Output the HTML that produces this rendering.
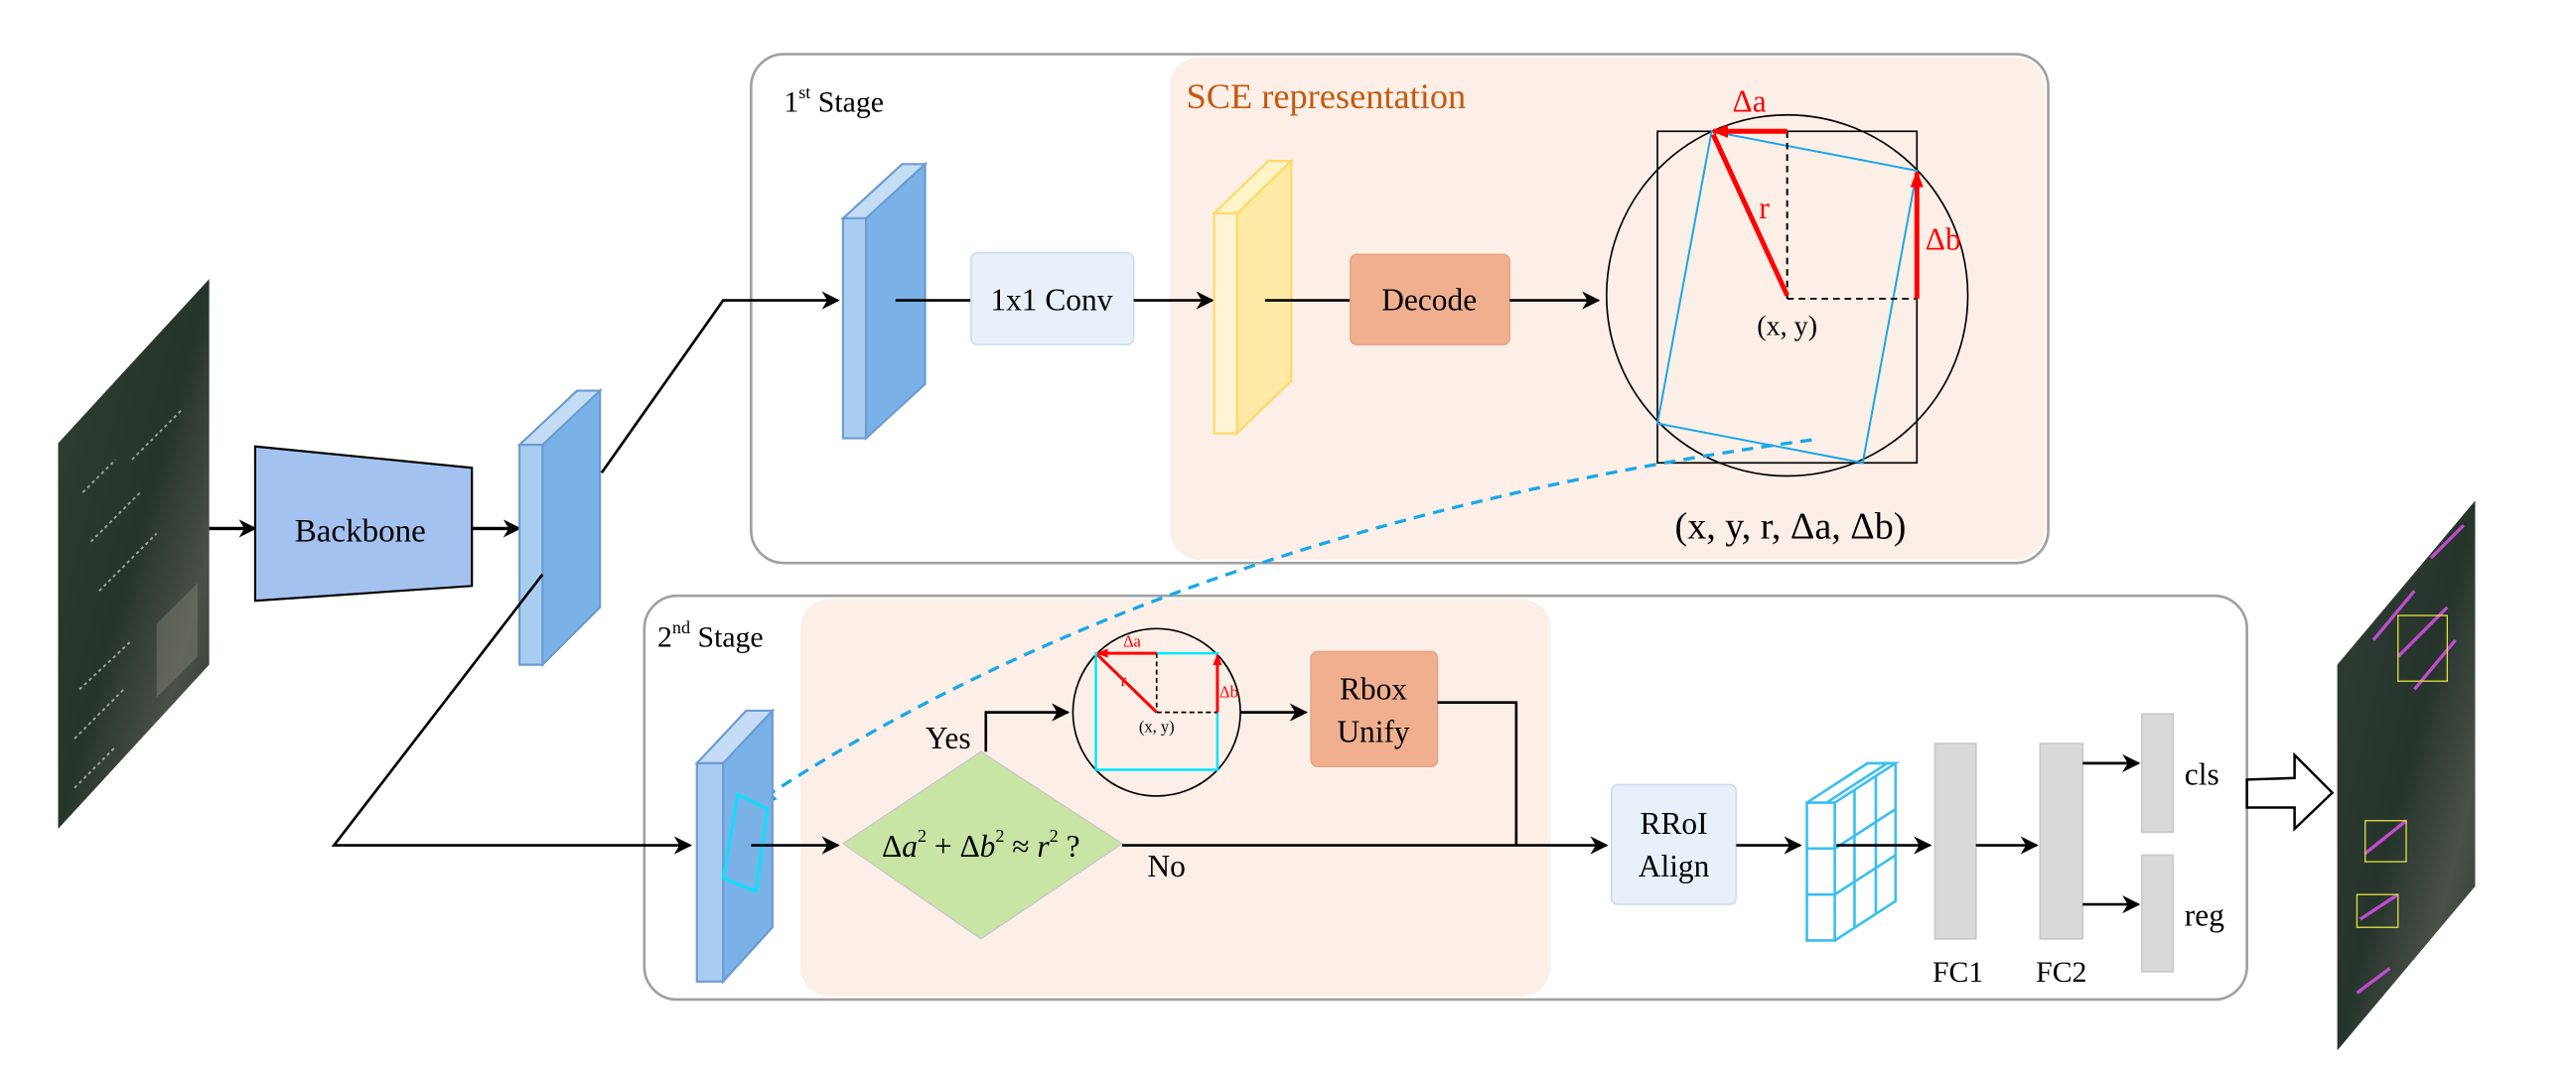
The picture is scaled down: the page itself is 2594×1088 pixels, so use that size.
<!DOCTYPE html>
<html><head><meta charset="utf-8"><style>
html,body{margin:0;padding:0;background:#fff;}
svg{display:block;}
text{font-family:"Liberation Serif","Noto Serif CJK SC","DejaVu Serif",serif;}
</style></head><body>
<svg width="2594" height="1088" viewBox="0 0 1568 658" xmlns="http://www.w3.org/2000/svg">
<defs>
<marker id="ah" viewBox="0 0 10 10" refX="9" refY="5" markerWidth="11" markerHeight="11" orient="auto" markerUnits="userSpaceOnUse"><path d="M0,0 L10,5 L0,10 L3,5 z" fill="#000"/></marker>
<marker id="ahr" viewBox="0 0 10 10" refX="9" refY="5" markerWidth="10" markerHeight="10" orient="auto" markerUnits="userSpaceOnUse"><path d="M0,1 L10,5 L0,9 z" fill="#f00"/></marker>
<marker id="ahrs" viewBox="0 0 10 10" refX="9" refY="5" markerWidth="7" markerHeight="7" orient="auto" markerUnits="userSpaceOnUse"><path d="M0,1 L10,5 L0,9 z" fill="#f00"/></marker>
<linearGradient id="img" x1="0" y1="0" x2="1" y2="1">
<stop offset="0" stop-color="#2f3d33"/><stop offset="0.5" stop-color="#26342c"/><stop offset="0.75" stop-color="#4a5048"/><stop offset="1" stop-color="#2a3a2c"/></linearGradient>
</defs>

<rect x="457" y="33" width="790" height="310" rx="20" fill="#fff" stroke="#a0a0a0" stroke-width="1.6"/>
<rect x="712" y="35" width="533" height="306" rx="18" fill="#fcefe7"/>
<text x="477" y="68" font-size="18">1<tspan font-size="11" dy="-8">st</tspan><tspan dy="8"> Stage</tspan></text>
<text x="722" y="66" font-size="22" fill="#c55a11">SCE representation</text>

<rect x="392" y="363" width="976" height="246" rx="20" fill="#fff" stroke="#a0a0a0" stroke-width="1.6"/>
<rect x="487" y="365" width="457" height="242" rx="18" fill="#fcefe7"/>
<text x="400" y="394" font-size="18">2<tspan font-size="11" dy="-8">nd</tspan><tspan dy="8"> Stage</tspan></text>

<polygon points="35,270 127,170 127,405 35,505" fill="url(#img)"/>
<g stroke="#dfe6e0" stroke-width="1.2" opacity="0.6" stroke-dasharray="2,2">
<line x1="50" y1="300" x2="70" y2="280"/><line x1="55" y1="330" x2="85" y2="300"/><line x1="60" y1="360" x2="95" y2="325"/><line x1="48" y1="420" x2="80" y2="390"/><line x1="45" y1="450" x2="75" y2="420"/><line x1="45" y1="480" x2="70" y2="455"/><line x1="80" y1="280" x2="110" y2="250"/>
</g>
<polygon points="95,380 120,355 120,400 95,425" fill="#7a7c72" opacity="0.5"/>

<polygon points="1423,405 1507,305 1507,540 1423,640" fill="url(#img)"/>
<g stroke="#d050e0" stroke-width="2" opacity="0.9">
<line x1="1445" y1="390" x2="1470" y2="360"/><line x1="1460" y1="400" x2="1490" y2="370"/><line x1="1470" y1="420" x2="1495" y2="390"/><line x1="1440" y1="520" x2="1465" y2="500"/><line x1="1437" y1="560" x2="1460" y2="545"/><line x1="1435" y1="605" x2="1455" y2="590"/><line x1="1480" y1="340" x2="1500" y2="320"/>
</g>
<g stroke="#e0e040" stroke-width="0.8" fill="none"><rect x="1440" y="500" width="25" height="25"/><rect x="1435" y="545" width="25" height="20"/><rect x="1460" y="375" width="30" height="40"/></g>

<line x1="127" y1="322" x2="155" y2="322" stroke="#000" stroke-width="2" marker-end="url(#ah)"/>
<polygon points="155,272 287,285 287,357 155,366" fill="#a4c2f0" stroke="#000" stroke-width="1.3"/>
<text x="219" y="330" font-size="20" text-anchor="middle">Backbone</text>
<line x1="287" y1="322" x2="316" y2="322" stroke="#000" stroke-width="2" marker-end="url(#ah)"/>

<g stroke="#6c9bd2" stroke-width="1.3">
<polygon points="330,271 365,238 365,370 330,405" fill="#7ab2e8"/>
<polygon points="316,271 351,238 365,238 330,271" fill="#c5dcf5"/>
<rect x="316" y="271" width="14" height="134" fill="#a9cdf0"/>
</g>
<polyline points="366,288 440,183 510,183" fill="none" stroke="#000" stroke-width="1.6" marker-end="url(#ah)"/>
<polyline points="330,350 203,515 420,515" fill="none" stroke="#000" stroke-width="1.6" marker-end="url(#ah)"/>

<g stroke="#6c9bd2" stroke-width="1.3">
<polygon points="527,133 563,100 563,234 527,267" fill="#7ab2e8"/>
<polygon points="513,133 549,100 563,100 527,133" fill="#c5dcf5"/>
<rect x="513" y="133" width="14" height="134" fill="#a9cdf0"/>
</g>
<line x1="545" y1="183" x2="591" y2="183" stroke="#000" stroke-width="1.6"/>
<rect x="591" y="154" width="99" height="56" rx="4" fill="#e8f0fa" stroke="#cfdcec"/>
<text x="640" y="189" font-size="19" text-anchor="middle">1x1 Conv</text>
<line x1="690" y1="183" x2="738" y2="183" stroke="#000" stroke-width="1.6" marker-end="url(#ah)"/>

<g stroke="#ffd966" stroke-width="1.3">
<polygon points="753,130 786,98 786,232 753,264" fill="#ffe9a6"/>
<polygon points="739,130 772,98 786,98 753,130" fill="#fff3c8"/>
<rect x="739" y="130" width="14" height="134" fill="#fff5d6"/>
</g>
<line x1="770" y1="183" x2="822" y2="183" stroke="#000" stroke-width="1.6"/>
<rect x="822" y="155" width="97" height="55" rx="4" fill="#f0b08f" stroke="#e8a584"/>
<text x="870" y="189" font-size="19" text-anchor="middle">Decode</text>
<line x1="919" y1="183" x2="973" y2="183" stroke="#000" stroke-width="1.6" marker-end="url(#ah)"/>

<circle cx="1088" cy="180" r="110" fill="none" stroke="#000" stroke-width="1"/>
<rect x="1009" y="80" width="158" height="202" fill="none" stroke="#000" stroke-width="1"/>
<polygon points="1042,80 1167,104 1134,282 1009,258" fill="none" stroke="#1aa7e8" stroke-width="1.2"/>
<line x1="1088" y1="80" x2="1088" y2="182" stroke="#000" stroke-dasharray="4,3" stroke-width="1.2"/>
<line x1="1088" y1="182" x2="1167" y2="182" stroke="#000" stroke-dasharray="4,3" stroke-width="1.2"/>
<line x1="1088" y1="180" x2="1043" y2="82" stroke="#f00" stroke-width="3"/>
<line x1="1088" y1="80" x2="1043" y2="80" stroke="#f00" stroke-width="3" marker-end="url(#ahr)"/>
<line x1="1167" y1="182" x2="1167" y2="105" stroke="#f00" stroke-width="3" marker-end="url(#ahr)"/>
<text x="1065" y="68" font-size="19" fill="#f00" text-anchor="middle">Δa</text>
<text x="1074" y="133" font-size="19" fill="#f00" text-anchor="middle">r</text>
<text x="1183" y="152" font-size="19" fill="#f00" text-anchor="middle">Δb</text>
<text x="1088" y="204" font-size="17" text-anchor="middle">(x, y)</text>
<text x="1090" y="328" font-size="23" text-anchor="middle">(x, y, r, Δa, Δb)</text>

<path d="M1103,268 Q720,320 468,484" fill="none" stroke="#1aa7e8" stroke-width="2" stroke-dasharray="7,5"/>
<polygon points="460,492 464,478 473,487" fill="#1aa7e8"/>

<g stroke="#6c9bd2" stroke-width="1.3">
<polygon points="440,465 470,433 470,565 440,598" fill="#7ab2e8"/>
<polygon points="424,465 454,433 470,433 440,465" fill="#c5dcf5"/>
<rect x="424" y="465" width="16" height="133" fill="#a9cdf0"/>
</g>
<polygon points="449,484 467,493 460,543 440,535" fill="none" stroke="#00e5ff" stroke-width="1.6"/>
<line x1="457" y1="515" x2="510" y2="515" stroke="#000" stroke-width="1.6" marker-end="url(#ah)"/>

<polygon points="513,514 597,458 683,514 597,572" fill="#c9e5a5" stroke="#c8c8c8" stroke-width="0.8"/>
<text x="597" y="522" font-size="19" text-anchor="middle">Δ<tspan font-style="italic">a</tspan><tspan font-size="11" dy="-9">2</tspan><tspan dy="9"> + Δ</tspan><tspan font-style="italic">b</tspan><tspan font-size="11" dy="-9">2</tspan><tspan dy="9"> ≈ </tspan><tspan font-style="italic">r</tspan><tspan font-size="11" dy="-9">2</tspan><tspan dy="9"> ?</tspan></text>
<text x="577" y="456" font-size="19" text-anchor="middle">Yes</text>
<text x="710" y="534" font-size="19" text-anchor="middle">No</text>
<polyline points="600,458 600,434 650,434" fill="none" stroke="#000" stroke-width="1.6" marker-end="url(#ah)"/>

<circle cx="704" cy="434" r="51" fill="none" stroke="#000" stroke-width="1"/>
<rect x="667" y="398" width="74" height="71" fill="none" stroke="#00e5ff" stroke-width="1.5"/>
<line x1="704" y1="398" x2="704" y2="434" stroke="#000" stroke-dasharray="3,2" stroke-width="1"/>
<line x1="704" y1="434" x2="741" y2="434" stroke="#000" stroke-dasharray="3,2" stroke-width="1"/>
<line x1="704" y1="434" x2="668" y2="399" stroke="#f00" stroke-width="1.8"/>
<line x1="704" y1="398" x2="668" y2="398" stroke="#f00" stroke-width="1.8" marker-end="url(#ahrs)"/>
<line x1="741" y1="434" x2="741" y2="399" stroke="#f00" stroke-width="1.8" marker-end="url(#ahrs)"/>
<text x="689" y="394" font-size="10" fill="#f00" text-anchor="middle">Δa</text>
<text x="682" y="418" font-size="11" fill="#f00">r</text>
<text x="748" y="425" font-size="10" fill="#f00" text-anchor="middle">Δb</text>
<text x="704" y="446" font-size="10" text-anchor="middle">(x, y)</text>

<line x1="755" y1="434" x2="795" y2="434" stroke="#000" stroke-width="1.6" marker-end="url(#ah)"/>
<rect x="798" y="397" width="77" height="70" rx="4" fill="#f0b08f" stroke="#e8a584"/>
<text x="836" y="426" font-size="19" text-anchor="middle">Rbox</text>
<text x="836" y="452" font-size="19" text-anchor="middle">Unify</text>
<polyline points="875,428 923,428 923,515" fill="none" stroke="#000" stroke-width="1.6"/>
<line x1="683" y1="515" x2="978" y2="515" stroke="#000" stroke-width="1.6" marker-end="url(#ah)"/>

<rect x="981" y="478" width="76" height="73" rx="4" fill="#e8f0fa" stroke="#cfdcec"/>
<text x="1019" y="508" font-size="19" text-anchor="middle">RRoI</text>
<text x="1019" y="534" font-size="19" text-anchor="middle">Align</text>
<line x1="1057" y1="515" x2="1096" y2="515" stroke="#000" stroke-width="1.6" marker-end="url(#ah)"/>

<g fill="none" stroke="#3cbff0" stroke-width="1.6">
<rect x="1100" y="489" width="17" height="84"/>
<polyline points="1100,489 1137,465 1154,465 1117,489"/>
<polyline points="1154,465 1154,549 1117,573"/>
<line x1="1117" y1="517" x2="1154" y2="493"/><line x1="1117" y1="545" x2="1154" y2="521"/>
<line x1="1100" y1="517" x2="1117" y2="517"/><line x1="1100" y1="545" x2="1117" y2="545"/>
<line x1="1129" y1="481" x2="1129" y2="565"/><line x1="1142" y1="473" x2="1142" y2="557"/>
<line x1="1112" y1="489" x2="1149" y2="465"/>
</g>
<line x1="1118" y1="515" x2="1175" y2="515" stroke="#000" stroke-width="1.6" marker-end="url(#ah)"/>
<rect x="1178" y="453" width="25" height="119" fill="#d9d9d9" stroke="#c8c8c8"/>
<line x1="1203" y1="515" x2="1240" y2="515" stroke="#000" stroke-width="1.6" marker-end="url(#ah)"/>
<rect x="1242" y="453" width="26" height="119" fill="#d9d9d9" stroke="#c8c8c8"/>
<line x1="1268" y1="465" x2="1302" y2="465" stroke="#000" stroke-width="1.6" marker-end="url(#ah)"/>
<line x1="1268" y1="551" x2="1302" y2="551" stroke="#000" stroke-width="1.6" marker-end="url(#ah)"/>
<rect x="1304" y="435" width="19" height="72" fill="#d9d9d9" stroke="#c8c8c8"/>
<rect x="1304" y="521" width="19" height="71" fill="#d9d9d9" stroke="#c8c8c8"/>
<text x="1330" y="478" font-size="19">cls</text>
<text x="1330" y="564" font-size="19">reg</text>
<text x="1192" y="598" font-size="18" text-anchor="middle">FC1</text>
<text x="1255" y="598" font-size="18" text-anchor="middle">FC2</text>

<polygon points="1368,475 1397,474 1397,460 1420,483 1397,505 1397,492 1368,492" fill="#fff" stroke="#000" stroke-width="1.5"/>
</svg>
</body></html>
